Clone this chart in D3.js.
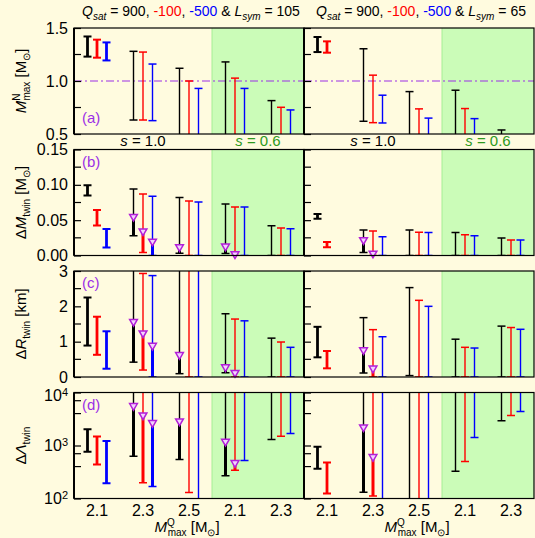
<!DOCTYPE html>
<html>
<head>
<meta charset="utf-8">
<script src="https://cdn.jsdelivr.net/npm/d3@7"></script>
<style>
  body { margin: 0; background: #fffbdf; }
  svg { display: block; font-family: "Liberation Sans", Arial, sans-serif; }
</style>
</head>
<body>
<svg id="chart" width="535" height="538"></svg>
<script>
// x groups: M^Q_max for s = 1.0 (first three) and s = 0.6 (last two)
const groupLabels = ["2.1", "2.3", "2.5", "2.1", "2.3"];
const lsymValues = [105, 65];
const seriesColors = ["#000000", "#ff0000", "#0000ff"]; // Qsat = 900, -100, -500

// (a) M^N_max [Msun]; rows = black, red, blue
const mnLo105 = [[1.23, 0.632, 0.3, 0.3, 0.3], [1.22, 0.632, 0.3, 0.3, 0.3], [1.194, 0.626, 0.3, 0.3, 0.3]];
const mnHi105 = [[1.42, 1.28, 1.12, 1.18, 0.815], [1.39, 1.273, 1.0, 1.027, 0.752], [1.364, 1.16, 0.93, 0.93, 0.727]];
const mnLo65 = [[1.273, 0.62, 0.3, 0.3, 0.3], [1.267, 0.607, 0.3, 0.3, null], [null, 0.604, 0.3, 0.3, null]];
const mnHi65 = [[1.415, 1.304, 0.9, 0.913, 0.538], [1.374, 1.055, 0.737, 0.74, null], [null, 0.866, 0.65, 0.645, null]];
const noTri = [[null, null, null, null, null], [null, null, null, null, null], [null, null, null, null, null]];

// (b) dM_twin [Msun]
const dmLo105 = [[0.085, 0.028, 0.0033, 0.003, 0], [0.0426, 0.0043, 0, 0, 0], [0.0114, 0, 0, 0, 0]];
const dmHi105 = [[0.0995, 0.094, 0.082, 0.073, 0.042], [0.0644, 0.087, 0.077, 0.0686, 0.039], [0.0374, 0.084, 0.0757, 0.0686, 0.038]];
const dmTri105 = [[null, 0.055, 0.012, 0.013, null], [null, 0.0345, null, 0.002, null], [null, 0.02, null, null, null]];
const dmLo65 = [[0.052, 0.0043, 0, 0, 0], [0.0118, 0, 0, 0, 0], [null, 0, 0, 0, 0]];
const dmHi65 = [[0.0587, 0.036, 0.036, 0.0326, 0.0246], [0.019, 0.0345, 0.033, 0.0293, 0.0218], [null, 0.0265, 0.0326, 0.028, 0.0218]];
const dmTri65 = [[null, 0.022, null, null, null], [null, 0.003, null, null, null], [null, null, null, null, null]];

// (c) dR_twin [km]
const drLo105 = [[0.89, 0.42, 0.094, 0.12, 0], [0.628, 0.197, 0, 0, 0], [0.234, 0, 0, 0, 0]];
const drHi105 = [[2.25, 3.5, 3.5, 1.79, 1.10], [1.706, 2.93, 3.5, 1.64, 0.99], [1.294, 2.87, 3.5, 1.59, 0.84]];
const drTri105 = [[null, 1.566, 0.628, 0.28, null], [null, 1.24, null, 0.12, null], [null, 0.89, null, null, null]];
const drLo65 = [[0.557, 0.113, 0.04, 0, 0], [0.245, 0, 0, 0, 0], [null, 0, 0, 0, 0]];
const drHi65 = [[1.42, 1.68, 2.53, 1.07, 1.44], [0.736, 1.34, 2.17, 0.84, 1.40], [null, 1.14, 2.0, 0.82, 1.35]];
const drTri65 = [[null, 0.764, null, null, null], [null, 0.245, null, null, null], [null, null, null, null, null]];

// (d) dLambda_twin
const dlLo105 = [[760, 630, 545, 270, 1300], [440, 198, 130, 343, 1500], [195, 168, 50, 521, 1680]];
const dlHi105 = [[2030, 2e4, 2e4, 2e4, 2e4], [1480, 2e4, 2e4, 2e4, 2e4], [1210, 2e4, 2e4, 2e4, 2e4]];
const dlTri105 = [[null, 5600, 2880, 1190, null], [null, 3730, null, 471, null], [null, 2680, null, null, null]];
const dlLo65 = [[363, 131, 50, 328, 2920], [124, 112, 50, 500, 3680], [null, 50, 50, 1410, 4380]];
const dlHi65 = [[944, 2e4, 2e4, 2e4, 2e4], [480, 2e4, 2e4, 2e4, 2e4], [null, 2e4, 2e4, 2e4, 2e4]];
const dlTri65 = [[null, 2220, null, null, null], [null, 611, null, null, null], [null, null, null, null, null]];

// axis ticks
const mnTicks = [0.5, 1.0, 1.5], mnMinor = [0.75, 1.25];
const dmTicks = [0, 0.05, 0.10, 0.15], dmMinor = [0.025, 0.075, 0.125];
const drTicks = [0, 1, 2, 3], drMinor = [0.5, 1.5, 2.5];
const dlTicks = [1e2, 1e3, 1e4], dlMinor = [400, 700, 4000, 7000];

const purple = "#9b30e6";
const colX = [74, 304], panelW = 230, panelH = 106, rowY0 = 28, rowStep = 121.5;

const rows = [
  {tag: "(a)", tagY: 95, scale: d3.scaleLinear().domain([0.5, 1.5]), ticks: mnTicks, minor: mnMinor, fmt: d3.format(".1f"),
   data: [[mnLo105, mnHi105, noTri], [mnLo65, mnHi65, noTri]], refLine: 1.0,
   label: [{t: "M", it: true}, {t: "N", off: -6, size: 10}, {t: "max", off: 4, size: 10, dx: -7}, {t: " [M", off: 0}, {t: "\u2299", off: 4, size: 10}, {t: "]", off: 0}]},
  {tag: "(b)", tagY: 17, scale: d3.scaleLinear().domain([0, 0.15]), ticks: dmTicks, minor: dmMinor, fmt: d3.format(".2f"),
   data: [[dmLo105, dmHi105, dmTri105], [dmLo65, dmHi65, dmTri65]],
   label: [{t: "\u0394", off: 0}, {t: "M", it: true}, {t: "twin", off: 4, size: 10}, {t: " [M", off: 0}, {t: "\u2299", off: 4, size: 10}, {t: "]", off: 0}]},
  {tag: "(c)", tagY: 17, scale: d3.scaleLinear().domain([0, 3]), ticks: drTicks, minor: drMinor, fmt: d3.format("d"),
   data: [[drLo105, drHi105, drTri105], [drLo65, drHi65, drTri65]],
   label: [{t: "\u0394", off: 0}, {t: "R", it: true}, {t: "twin", off: 4, size: 10}, {t: " [km]", off: 0}]},
  {tag: "(d)", tagY: 17, scale: d3.scaleLog().domain([1e2, 1e4]), ticks: dlTicks, minor: dlMinor, fmt: null,
   data: [[dlLo105, dlHi105, dlTri105], [dlLo65, dlHi65, dlTri65]],
   label: [{t: "\u0394", off: 0}, {t: "\u039b", it: true}, {t: "twin", off: 4, size: 10}]}
];

const svg = d3.select("#chart");
svg.append("rect").attr("width", 535).attr("height", 538).attr("fill", "#fffbdf");

function rich(text, parts) {
  let cur = 0;
  parts.forEach(p => {
    const off = p.off || 0;
    const ts = text.append("tspan").text(p.t).attr("dy", off - cur);
    cur = off;
    if (p.size) ts.attr("font-size", p.size);
    if (p.it) ts.attr("font-style", "italic");
    if (p.fill) ts.attr("fill", p.fill);
    if (p.dx) ts.attr("dx", p.dx);
  });
}

const x = d3.scaleBand().domain(d3.range(groupLabels.length)).range([0, panelW]);
const dxSeries = [-9.5, 0, 9.5];
const tri = d3.symbol().type(d3.symbolTriangle).size(26);

rows.forEach((row, ri) => {
  const y0 = rowY0 + ri * rowStep;
  const y = row.scale.copy().range([panelH, 0]);

  colX.forEach((cx, ci) => {
    const g = svg.append("g").attr("transform", `translate(${cx},${y0})`);
    const clipId = `clip-${ri}-${ci}`;
    g.append("clipPath").attr("id", clipId)
      .append("rect").attr("width", panelW).attr("height", panelH);

    // s = 0.6 shaded region
    g.append("rect").attr("x", x(3)).attr("width", panelW - x(3)).attr("height", panelH)
      .attr("fill", "#cbfcb8");
    g.append("line").attr("x1", x(3)).attr("x2", x(3)).attr("y2", panelH)
      .attr("stroke", "#a6ee94").attr("stroke-width", 1);

    if (row.refLine != null) {
      g.append("line").attr("x1", 0).attr("x2", panelW)
        .attr("y1", y(row.refLine)).attr("y2", y(row.refLine))
        .attr("stroke", purple).attr("stroke-width", 1.2).attr("stroke-dasharray", "8,3,2,3");
    }

    const [lo, hi, tr] = row.data[ci];
    const bars = g.append("g").attr("clip-path", `url(#${clipId})`);
    const marks = g.append("g");
    seriesColors.forEach((col, si) => {
      lo[si].forEach((l, gi) => {
        if (l == null) return;
        const h = hi[si][gi], t = tr[si][gi];
        const bx = x(gi) + x.bandwidth() / 2 + dxSeries[si];
        const full = gi === 0;
        const sw = full ? 2.8 : 1.4;
        bars.append("line").attr("x1", bx).attr("x2", bx).attr("y1", y(l)).attr("y2", y(h))
          .attr("stroke", col).attr("stroke-width", sw);
        [l, h].forEach(v => {
          bars.append("line").attr("x1", bx - 4).attr("x2", bx + 4).attr("y1", y(v)).attr("y2", y(v))
            .attr("stroke", col).attr("stroke-width", full ? 2 : 1.5);
        });
        if (t != null) {
          bars.append("line").attr("x1", bx).attr("x2", bx).attr("y1", y(l)).attr("y2", y(t))
            .attr("stroke", col).attr("stroke-width", 3);
          marks.append("path").attr("d", tri)
            .attr("transform", `translate(${bx},${y(t)}) rotate(180)`)
            .attr("fill", "#f3d2ff").attr("stroke", "#b21fd8").attr("stroke-width", 1.5);
        }
      });
    });

    // inner ticks on the left border
    const axis = d3.axisLeft(y).tickValues(row.ticks).tickSize(-7).tickSizeOuter(0).tickPadding(6);
    axis.tickFormat(ci === 0 && row.fmt ? row.fmt : () => "");
    const ag = g.append("g").call(axis);
    ag.select(".domain").remove();
    ag.selectAll("line").attr("stroke", "#000").attr("stroke-width", 1.2);
    ag.selectAll("text").attr("font-size", 16).attr("fill", "#000")
      .attr("font-family", "'Liberation Sans', Arial, sans-serif");
    if (ci === 0 && !row.fmt) {
      ag.selectAll("text").each(function(d) {
        const t = d3.select(this).text("10").attr("dy", d === 1e4 ? "0.5em" : "0.32em");
        t.append("tspan").attr("dy", "-0.5em").attr("font-size", 11).text(Math.round(Math.log10(d)));
      });
    }
    row.minor.forEach(v => {
      g.append("line").attr("x1", 0).attr("x2", 7).attr("y1", y(v)).attr("y2", y(v))
        .attr("stroke", "#000").attr("stroke-width", 1.2);
    });

    // frame
    g.append("rect").attr("width", panelW).attr("height", panelH)
      .attr("fill", "none").attr("stroke", "#000").attr("stroke-width", 1.2);
    g.append("line").attr("y2", panelH).attr("stroke", "#000").attr("stroke-width", 2);

    // panel tag (left column only)
    if (ci === 0) {
      g.append("text").attr("x", 8).attr("y", row.tagY).attr("font-size", 15)
        .attr("fill", purple).text(row.tag);
    }

    // x tick labels on bottom row
    if (ri === rows.length - 1) {
      g.selectAll("text.xt").data(groupLabels).join("text").attr("class", "xt")
        .attr("x", (d, i) => x(i) + x.bandwidth() / 2).attr("y", panelH + 17)
        .attr("text-anchor", "middle").attr("font-size", 16).text(d => d);
      const xl = g.append("text").attr("x", panelW / 2 - 2).attr("y", panelH + 33)
        .attr("text-anchor", "middle").attr("font-size", 15);
      rich(xl, [{t: "M", it: true}, {t: "Q", off: -6, size: 10}, {t: "max", off: 4, size: 10, dx: -7},
        {t: " [M", off: 0}, {t: "\u2299", off: 4, size: 10}, {t: "]", off: 0}]);
    }

    // s labels between (a) and (b)
    if (ri === 0) {
      const sl = g.append("text").attr("x", x(1) + x.bandwidth() / 2).attr("y", panelH + 12)
        .attr("text-anchor", "middle").attr("font-size", 15);
      rich(sl, [{t: "s", it: true}, {t: " = 1.0"}]);
      const s6 = g.append("text").attr("x", x(4)).attr("y", panelH + 12)
        .attr("text-anchor", "middle").attr("font-size", 15).attr("fill", "#2e9a1e");
      rich(s6, [{t: "s", it: true}, {t: " = 0.6"}]);

      const title = g.append("text").attr("x", panelW / 2 + 2).attr("y", -12)
        .attr("text-anchor", "middle").attr("font-size", 14);
      rich(title, [{t: "Q", it: true}, {t: "sat", it: true, off: 4, size: 10}, {t: " = 900, ", off: 0},
        {t: "-100", fill: "#ff0000"}, {t: ", "}, {t: "-500", fill: "#0000ff"}, {t: " & "},
        {t: "L", it: true}, {t: "sym", it: true, off: 4, size: 10}, {t: " = " + lsymValues[ci], off: 0}]);
    }
  });

  // y axis label
  const yl = svg.append("text").attr("font-size", 15).attr("text-anchor", "middle")
    .attr("transform", `translate(26,${y0 + panelH / 2}) rotate(-90)`);
  rich(yl, row.label);
});
</script>
</body>
</html>
